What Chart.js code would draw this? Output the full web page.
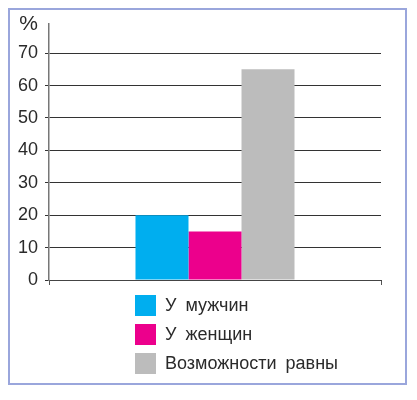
<!DOCTYPE html>
<html>
<head>
<meta charset="utf-8">
<script src="https://cdn.jsdelivr.net/npm/chart.js@4/dist/chart.umd.min.js"></script>
<style>
  html, body { margin: 0; padding: 0; background: #fff; }
  #wrap { position: relative; width: 417px; height: 400px; }
  #legenda { position: absolute; left: 135px; top: 291px; font-family: "Liberation Sans", Arial, sans-serif; font-size: 18px; color: #2a2a2a; }
  .fila { display: flex; align-items: center; height: 29px; word-spacing: 4px; }
  .caja { width: 21px; height: 21px; margin-right: 9px; }
</style>
</head>
<body>
<div id="wrap">
  <canvas id="grafica" width="417" height="400"></canvas>
  <div id="legenda"></div>
</div>
<script>
// Datos del gráfico
const categorias = [''];
const series = ['У мужчин', 'У женщин', 'Возможности равны'];
const valores = [20, 15, 65];
const colores = ['#00aeef', '#ec008c', '#bcbcbc'];
const marcasY = [0, 10, 20, 30, 40, 50, 60, 70];
const tope = 79;

// Marco exterior azulado
const marco = {
  id: 'marco',
  afterDraw(chart) {
    const ctx = chart.ctx;
    ctx.save();
    ctx.strokeStyle = '#9aa6dc';
    ctx.lineWidth = 2;
    ctx.strokeRect(9, 9, 397, 375);
    ctx.restore();
  }
};

const datasets = series.map((nombre, i) => ({
  label: nombre,
  data: [valores[i]],
  backgroundColor: colores[i],
  borderWidth: 0,
  categoryPercentage: 0.479,
  barPercentage: 1
}));

const fuente = '"Liberation Sans", Arial, sans-serif';

new Chart(document.getElementById('grafica'), {
  type: 'bar',
  data: { labels: categorias, datasets },
  options: {
    responsive: false,
    animation: false,
    layout: { padding: { left: 0, right: 36, top: 24, bottom: 115 } },
    plugins: { legend: { display: false }, tooltip: { enabled: false } },
    scales: {
      x: {
        grid: { display: true, drawOnChartArea: false, tickLength: 5, color: '#555', lineWidth: 1 },
        border: { display: true, color: '#444', width: 1 },
        ticks: { display: false },
        afterFit(scale) { scale.height = 5; }
      },
      y: {
        min: 0,
        max: tope,
        afterBuildTicks(scale) {
          scale.ticks = marcasY.map(v => ({ value: v })).concat([{ value: tope }]);
        },
        grid: {
          color: c => c.tick && c.tick.value === tope ? 'rgba(0,0,0,0)' : '#333',
          tickColor: c => c.tick && c.tick.value === tope ? 'rgba(0,0,0,0)' : '#333',
          lineWidth: 1,
          tickLength: 4
        },
        border: { display: true, color: '#777', width: 1.5 },
        ticks: {
          padding: 7,
          color: '#2a2a2a',
          font: c => (c.tick && c.tick.value === tope)
            ? { family: fuente, size: 21 }
            : { family: fuente, size: 18 },
          callback: v => v === tope ? '%' : v
        },
        afterFit(scale) { scale.width = 49; }
      }
    }
  },
  plugins: [marco]
});

// Leyenda en HTML
document.getElementById('legenda').innerHTML = series.map((nombre, i) =>
  `<div class="fila"><span class="caja" style="background:${colores[i]}"></span>${nombre}</div>`
).join('');
</script>
</body>
</html>
